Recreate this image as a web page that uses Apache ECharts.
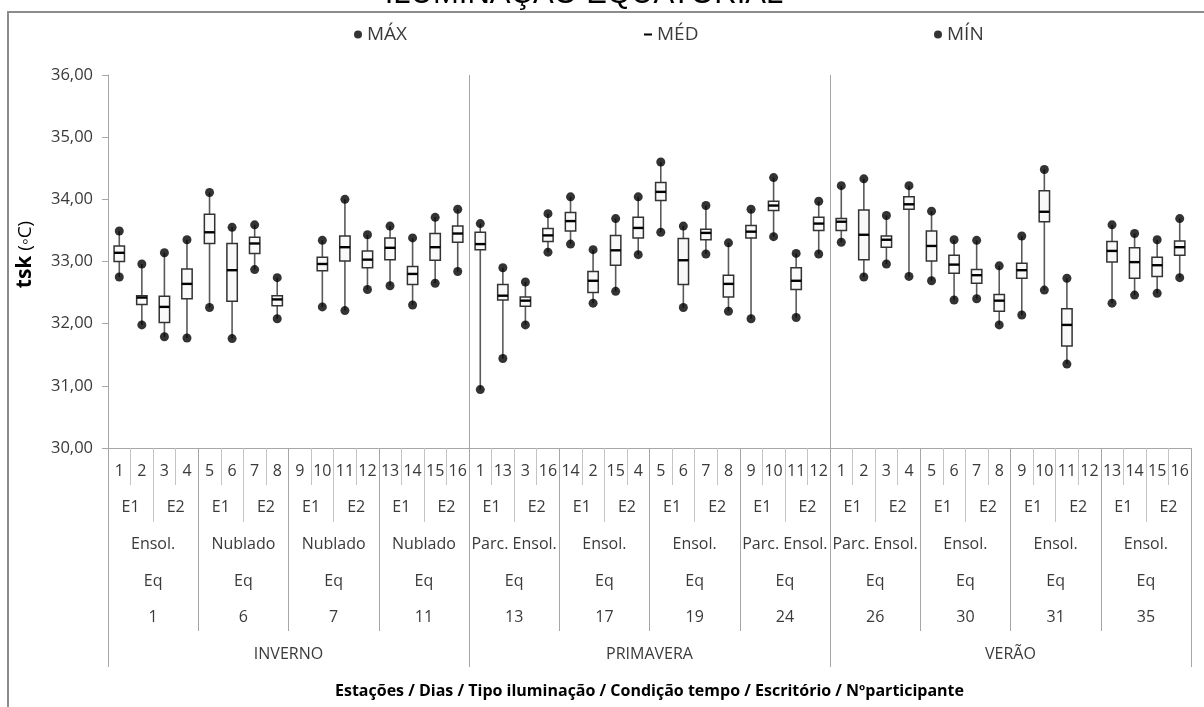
<!DOCTYPE html>
<html>
<head>
<meta charset="utf-8">
<script src="https://cdn.jsdelivr.net/npm/echarts@6/dist/echarts.min.js"></script>
<style>
  html, body { margin: 0; padding: 0; background: #fff; }
  #chart { width: 1204px; height: 707px; }
</style>
</head>
<body>
<div id="chart"></div>
<script>
// Category levels of the horizontal axis (innermost first)
const participants = [
  '1','2','3','4','5','6','7','8','9','10','11','12','13','14','15','16',
  '1','13','3','16','14','2','15','4','5','6','7','8','9','10','11','12',
  '1','2','3','4','5','6','7','8','9','10','11','12','13','14','15','16'
];
const offices = [
  'E1','E2','E1','E2','E1','E2','E1','E2','E1','E2','E1','E2',
  'E1','E2','E1','E2','E1','E2','E1','E2','E1','E2','E1','E2'
];
const conditions = [
  'Ensol.','Nublado','Nublado','Nublado',
  'Parc. Ensol.','Ensol.','Ensol.','Parc. Ensol.',
  'Parc. Ensol.','Ensol.','Ensol.','Ensol.'
];
const lighting = ['Eq','Eq','Eq','Eq','Eq','Eq','Eq','Eq','Eq','Eq','Eq','Eq'];
const days = ['1','6','7','11','13','17','19','24','26','30','31','35'];
const seasons = ['INVERNO','PRIMAVERA','VERÃO'];

// Skin temperature statistics (°C) per participant; null = no record
const maxVals = [
  33.49,32.96,33.14,33.35,34.11,33.55,33.59,32.74,null,33.34,34.00,33.43,33.57,33.38,33.71,33.84,
  33.61,32.90,32.67,33.77,34.04,33.19,33.69,34.04,34.60,33.57,33.90,33.30,33.84,34.35,33.13,33.97,
  34.22,34.33,33.74,34.22,33.81,33.35,33.34,32.93,33.41,34.48,32.73,null,33.59,33.45,33.35,33.69
];
const q3Vals = [
  33.25,32.45,32.44,32.88,33.76,33.29,33.39,32.45,null,33.07,33.41,33.17,33.38,32.92,33.45,33.57,
  33.47,32.63,32.43,33.53,33.79,32.84,33.42,33.71,34.27,33.37,33.52,32.78,33.58,33.97,32.90,33.71,
  33.69,33.83,33.41,34.04,33.49,33.10,32.87,32.47,32.97,34.14,32.24,null,33.32,33.22,33.07,33.33
];
const medVals = [
  33.14,32.42,32.27,32.64,33.47,32.86,33.29,32.39,null,32.96,33.23,33.03,33.22,32.80,33.23,33.45,
  33.28,32.45,32.37,33.42,33.65,32.69,33.18,33.54,34.12,33.02,33.46,32.64,33.48,33.90,32.69,33.61,
  33.64,33.43,33.35,33.92,33.25,32.95,32.78,32.37,32.86,33.80,31.98,null,33.17,32.99,32.94,33.23
];
const q1Vals = [
  33.00,32.31,32.02,32.40,33.29,32.36,33.13,32.29,null,32.85,33.01,32.90,33.03,32.63,33.02,33.31,
  33.19,32.38,32.28,33.32,33.49,32.50,32.94,33.38,33.98,32.63,33.35,32.43,33.38,33.82,32.55,33.50,
  33.50,33.03,33.23,33.84,33.01,32.81,32.65,32.20,32.73,33.64,31.64,null,32.99,32.73,32.76,33.10
];
const minVals = [
  32.75,31.98,31.79,31.77,32.26,31.76,32.87,32.08,null,32.27,32.21,32.55,32.61,32.30,32.65,32.84,
  30.94,31.44,31.98,33.15,33.28,32.33,32.52,33.11,33.47,32.26,33.12,32.20,32.08,33.40,32.10,33.12,
  33.31,32.75,32.96,32.76,32.69,32.38,32.40,31.98,32.14,32.54,31.35,null,32.33,32.46,32.49,32.74
];

// Y-axis tick range
const yMin = 30, yMax = 36, yStep = 1;

const FONT = '"Open Sans", "Noto Sans", sans-serif';
const TEXT = '#3a3a3a';
const AXIS = '#a6a6a6';
const TICK = '#c4c4c4';

const boxData = participants.map((_, i) =>
  medVals[i] == null ? [i, null, null, null, null, null]
                     : [i, minVals[i], q1Vals[i], medVals[i], q3Vals[i], maxVals[i]]);
const maxData = participants.map((_, i) => [i, maxVals[i]]);
const minData = participants.map((_, i) => [i, minVals[i]]);

// Whisker from min to max, box from Q1 to Q3, thick median bar
function renderBox(params, api) {
  if (api.value(3) == null || isNaN(api.value(3))) return;
  const x = api.value(0);
  const pMin = api.coord([x, api.value(1)]);
  const pQ1 = api.coord([x, api.value(2)]);
  const pMed = api.coord([x, api.value(3)]);
  const pQ3 = api.coord([x, api.value(4)]);
  const pMax = api.coord([x, api.value(5)]);
  const half = api.size([1, 0])[0] * 0.23;
  const cx = pMed[0];
  return {
    type: 'group',
    children: [
      { type: 'line', shape: { x1: cx, y1: pMax[1], x2: cx, y2: pMin[1] },
        style: { stroke: '#5a5a5a', lineWidth: 1.6 } },
      { type: 'rect', shape: { x: cx - half, y: pQ3[1], width: half * 2, height: pQ1[1] - pQ3[1] },
        style: { fill: '#f9f9f9', stroke: '#333', lineWidth: 1.5 } },
      { type: 'line', shape: { x1: cx - half, y1: pMed[1], x2: cx + half, y2: pMed[1] },
        style: { stroke: '#000', lineWidth: 2.4 } }
    ]
  };
}

function catAxis(data, opts) {
  return Object.assign({
    type: 'category',
    position: 'bottom',
    gridIndex: 0,
    data: data,
    boundaryGap: true,
    axisLine: { show: false },
    axisTick: { show: false },
    splitLine: { show: false },
    axisLabel: { interval: 0, color: TEXT, fontFamily: FONT, fontSize: 16 }
  }, opts);
}

const legendText = { color: TEXT, fontFamily: FONT, fontSize: 19 };

const chart = echarts.init(document.getElementById('chart'), null, { renderer: 'canvas' });

chart.setOption({
  animation: false,
  backgroundColor: '#fff',
  grid: { left: 108, right: 13, top: 75, bottom: 259 },
  legend: [
    { data: [{ name: 'MÁX', icon: 'circle' }], left: 349, top: 20, itemWidth: 8, itemHeight: 8,
      textStyle: legendText },
    { data: [{ name: 'MÉD', icon: 'rect' }], left: 639, top: 20, itemWidth: 8, itemHeight: 2,
      textStyle: legendText },
    { data: [{ name: 'MÍN', icon: 'circle' }], left: 929, top: 20, itemWidth: 8, itemHeight: 8,
      textStyle: legendText }
  ],
  xAxis: [
    catAxis(participants, {
      axisLine: { show: true, lineStyle: { color: AXIS, width: 1 } },
      axisTick: { show: true, length: 37, lineStyle: { color: TICK } },
      axisLabel: { interval: 0, margin: 15, color: TEXT, fontFamily: FONT, fontSize: 16 }
    }),
    catAxis(offices, {
      axisTick: { show: true, length: 74, lineStyle: { color: TICK } },
      axisLabel: { interval: 0, margin: 51, color: TEXT, fontFamily: FONT, fontSize: 16 }
    }),
    catAxis(conditions, {
      axisTick: { show: true, length: 183, lineStyle: { color: AXIS } },
      axisLabel: { interval: 0, margin: 88, color: TEXT, fontFamily: FONT, fontSize: 16 }
    }),
    catAxis(lighting, {
      axisLabel: { interval: 0, margin: 125, color: TEXT, fontFamily: FONT, fontSize: 16 }
    }),
    catAxis(days, {
      axisLabel: { interval: 0, margin: 161, color: TEXT, fontFamily: FONT, fontSize: 16 }
    }),
    catAxis(seasons, {
      axisTick: { show: true, length: 219, lineStyle: { color: AXIS } },
      splitLine: { show: true, showMinLine: false, showMaxLine: false,
                   lineStyle: { color: AXIS, width: 1 } },
      axisLabel: { interval: 0, margin: 198, color: TEXT, fontFamily: FONT, fontSize: 16 },
      name: 'Estações / Dias / Tipo iluminação / Condição tempo / Escritório / Nºparticipante',
      nameLocation: 'middle',
      nameGap: 235,
      nameTextStyle: { color: '#000', fontFamily: FONT, fontSize: 16, fontWeight: 'bold' }
    })
  ],
  yAxis: {
    type: 'value',
    min: yMin, max: yMax, interval: yStep,
    axisLine: { show: true, lineStyle: { color: AXIS, width: 1 } },
    axisTick: { show: true, length: 6, lineStyle: { color: AXIS } },
    splitLine: { show: false },
    axisLabel: {
      margin: 15, color: TEXT, fontFamily: FONT, fontSize: 16.5,
      formatter: v => v.toFixed(2).replace('.', ',')
    },
    name: '{b|tsk} (◦C)',
    nameLocation: 'middle',
    nameRotate: 90,
    nameGap: 72,
    nameTextStyle: {
      color: '#000', fontFamily: FONT, fontSize: 19, padding: [0, 0, 0, 14],
      rich: { b: { fontFamily: FONT, fontSize: 21, fontWeight: 'bold', color: '#000' } }
    }
  },
  graphic: [
    { type: 'rect', z: -1, silent: true,
      shape: { x: 8, y: 12, width: 1250, height: 760 },
      style: { fill: 'none', stroke: '#8c8c8c', lineWidth: 2 } },
    { type: 'text', silent: true, x: 584, y: 10,
      style: { text: 'ILUMINAÇÃO EQUATORIAL', fill: '#000', align: 'center', verticalAlign: 'bottom',
               font: '31px "Liberation Sans", Arial, sans-serif' } }
  ],
  series: [
    {
      name: 'MÉD', type: 'custom', xAxisIndex: 0,
      itemStyle: { color: '#000' },
      encode: { x: 0, y: [1, 2, 3, 4, 5] },
      renderItem: renderBox,
      data: boxData,
      z: 2
    },
    {
      name: 'MÁX', type: 'scatter', xAxisIndex: 0,
      symbol: 'circle', symbolSize: 9,
      itemStyle: { color: '#000' },
      data: maxData, z: 3
    },
    {
      name: 'MÍN', type: 'scatter', xAxisIndex: 0,
      symbol: 'circle', symbolSize: 9,
      itemStyle: { color: '#000' },
      data: minData, z: 3
    }
  ]
});
</script>
</body>
</html>
